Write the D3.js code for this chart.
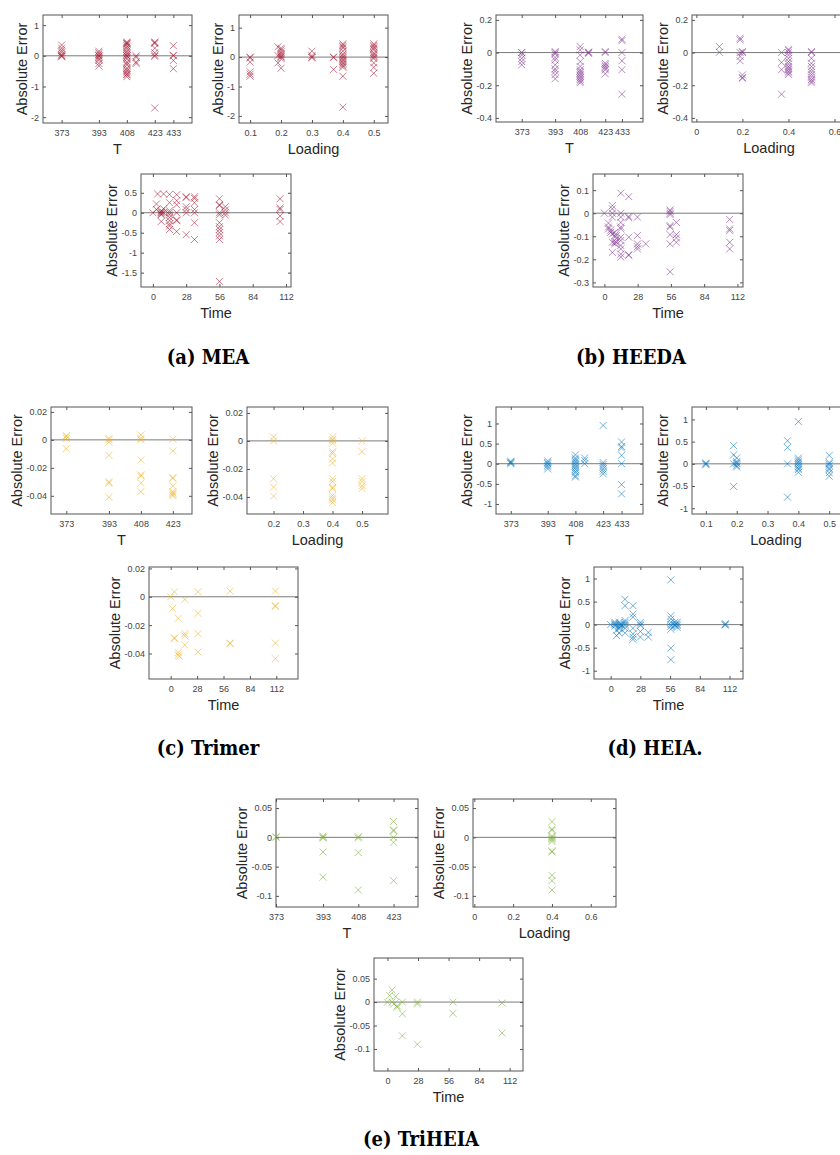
<!DOCTYPE html>
<html>
<head>
<meta charset="utf-8">
<script src="https://cdn.jsdelivr.net/npm/d3@7"></script>
<style>
  body { margin: 0; background: #fff; }
  svg { display: block; font-family: "Liberation Sans", Arial, sans-serif; }
  .tick text { font-size: 9px; fill: #444; }
  .tick line { stroke: #555; }
  .lab { font-size: 14.5px; fill: #262626; }
  .cap { font-family: "DejaVu Serif", "Liberation Serif", serif; font-stretch: condensed; font-weight: bold; font-size: 20px; fill: #000; }
</style>
</head>
<body>
<div id="chart"></div>
<script>
// ---- tick labels ----
const tTicks5 = [373, 393, 408, 423, 433];
const tTicks4 = [373, 393, 408, 423];
const loadTicksA = [0.1, 0.2, 0.3, 0.4, 0.5];
const loadTicksB = [0, 0.2, 0.4, 0.6];
const loadTicksC = [0.2, 0.3, 0.4, 0.5];
const timeTicks = [0, 28, 56, 84, 112];
const yTicksMEA = [-2, -1, 0, 1];
const yTicksMEATime = [-1.5, -1, -0.5, 0, 0.5];
const yTicksHEEDA = [-0.4, -0.2, 0, 0.2];
const yTicksHEEDATime = [-0.3, -0.2, -0.1, 0, 0.1];
const yTicksTrimer = [-0.04, -0.02, 0, 0.02];
const yTicksHEIA = [-1, -0.5, 0, 0.5, 1];
const yTicksTriHEIA = [-0.1, -0.05, 0, 0.05];

// ---- data: [x, absolute error] ----
const meaT = [
 [373,0.35],[373,0.25],[373,0.18],[373,0.12],[373,0.05],[373,0],[373,0],[373,-0.03],
 [393,0.15],[393,0.1],[393,0.05],[393,0],[393,0],[393,-0.05],[393,-0.1],[393,-0.15],[393,-0.25],[393,-0.33],
 [408,0.45],[408,0.42],[408,0.4],[408,0.38],[408,0.33],[408,0.28],[408,0.22],[408,0.15],[408,0.1],[408,0.05],[408,0],[408,0],[408,-0.05],[408,-0.1],[408,-0.2],[408,-0.25],[408,-0.3],[408,-0.4],[408,-0.45],[408,-0.5],[408,-0.55],[408,-0.6],[408,-0.62],[408,-0.68],
 [413,0],[413,-0.05],[413,-0.2],[413,-0.25],
 [423,0.45],[423,0.43],[423,0.4],[423,0.25],[423,0.1],[423,0.02],[423,-0.02],[423,-1.7],
 [433,0.33],[433,0.02],[433,0],[433,-0.15],[433,-0.42]
];
const meaLoading = [
 [0.1,0],[0.1,-0.03],[0.1,-0.17],[0.1,-0.5],[0.1,-0.58],[0.1,-0.65],
 [0.19,0.35],[0.19,0.05],[0.19,-0.2],
 [0.2,0.3],[0.2,0.25],[0.2,0.18],[0.2,0.12],[0.2,0.08],[0.2,0.03],[0.2,0],[0.2,-0.05],[0.2,-0.38],
 [0.3,0.2],[0.3,0.05],[0.3,0],[0.3,-0.02],
 [0.37,0],[0.37,-0.02],[0.37,-0.42],
 [0.4,0.45],[0.4,0.4],[0.4,0.35],[0.4,0.3],[0.4,0.2],[0.4,0.1],[0.4,0.05],[0.4,0],[0.4,-0.05],[0.4,-0.1],[0.4,-0.15],[0.4,-0.2],[0.4,-0.25],[0.4,-0.3],[0.4,-0.35],[0.4,-0.65],[0.4,-1.7],
 [0.5,0.45],[0.5,0.4],[0.5,0.35],[0.5,0.3],[0.5,0.25],[0.5,0.15],[0.5,0.1],[0.5,0.05],[0.5,0],[0.5,-0.05],[0.5,-0.2],[0.5,-0.35],[0.5,-0.55]
];
const meaTime = [
 [0,0],[3,0.22],[3,0.08],[4,0.47],[7,0.05],[7,0.02],[7,0],[7,-0.03],[7,-0.05],[7,-0.22],[9,0.47],[9,0.1],[9,0],
 [14,0.46],[14,0.25],[14,0.05],[14,0],[14,-0.05],[14,-0.12],[14,-0.2],[14,-0.28],[14,-0.33],[14,-0.42],
 [20,0.45],[20,0.3],[20,0.2],[20,0],[20,-0.18],[20,-0.2],[20,-0.47],
 [28,0.4],[28,0.38],[28,0.15],[28,0.08],[28,0],[28,-0.55],
 [35,0.4],[35,0.36],[35,0.25],[35,0.08],[35,0],[35,-0.25],[35,-0.67],
 [56,0.35],[56,0.2],[56,0.18],[56,0],[56,-0.05],[56,-0.25],[56,-0.35],[56,-0.42],[56,-0.5],[56,-0.58],[56,-0.67],[56,-1.72],
 [61,0.15],[61,0.07],[61,0],[61,-0.06],
 [107,0.35],[107,0.12],[107,0.08],[107,-0.08],[107,-0.22]
];
const heedaT = [
 [373,0],[373,0],[373,-0.015],[373,-0.035],[373,-0.055],[373,-0.075],
 [393,0.006],[393,0],[393,-0.008],[393,-0.03],[393,-0.045],[393,-0.075],[393,-0.1],[393,-0.115],[393,-0.135],[393,-0.16],
 [408,0.037],[408,0.016],[408,-0.015],[408,-0.055],[408,-0.085],[408,-0.105],[408,-0.115],[408,-0.125],[408,-0.135],[408,-0.145],[408,-0.155],[408,-0.165],[408,-0.175],[408,-0.185],
 [413,0.003],[413,0],[413,-0.005],
 [423,0.006],[423,0],[423,-0.065],[423,-0.075],[423,-0.085],[423,-0.095],[423,-0.105],[423,-0.13],
 [433,0.082],[433,0.073],[433,0],[433,-0.05],[433,-0.105],[433,-0.255]
];
const heedaLoading = [
 [0.1,0.037],[0.1,0.002],
 [0.19,0.088],[0.19,0.078],[0.19,0],[0.19,-0.024],[0.19,-0.05],
 [0.2,0.006],[0.2,0],[0.2,-0.137],[0.2,-0.153],[0.2,-0.157],
 [0.37,0],[0.37,-0.06],[0.37,-0.105],[0.37,-0.255],
 [0.4,0.02],[0.4,0.012],[0.4,0],[0.4,-0.015],[0.4,-0.035],[0.4,-0.055],[0.4,-0.07],[0.4,-0.085],[0.4,-0.095],[0.4,-0.105],[0.4,-0.115],[0.4,-0.125],[0.4,-0.135],
 [0.5,0.006],[0.5,0],[0.5,-0.035],[0.5,-0.065],[0.5,-0.085],[0.5,-0.105],[0.5,-0.12],[0.5,-0.135],[0.5,-0.15],[0.5,-0.165],[0.5,-0.175],[0.5,-0.185]
];
const heedaTime = [
 [0,0],[3.4,-0.043],[3.4,-0.06],[3.4,-0.068],[5.3,-0.073],[5.3,-0.083],
 [6.7,0.033],[6.7,0.019],[6.7,0],[6.7,-0.017],[6.7,-0.09],[6.7,-0.126],[6.7,-0.17],
 [8.7,-0.083],[8.7,-0.097],[8.7,-0.126],[8.7,-0.133],[10,-0.097],[10,-0.11],[10,-0.126],
 [13.8,0.087],[13.8,0],[13.8,-0.017],[13.8,-0.04],[13.8,-0.06],[13.8,-0.068],[13.8,-0.104],[13.8,-0.118],[13.8,-0.14],[13.8,-0.155],[13.8,-0.177],[13.8,-0.19],
 [20.5,0.072],[20.5,-0.014],[20.5,-0.02],[20.5,-0.104],[20.5,-0.18],[20.5,-0.183],
 [27.8,-0.017],[27.8,-0.097],[27.8,-0.133],[27.8,-0.145],[27.8,-0.155],[34.8,-0.133],
 [55.3,0.014],[55.3,0.008],[55.3,0],[55.3,-0.006],[55.3,-0.054],[55.3,-0.06],[55.3,-0.093],[55.3,-0.133],[55.3,-0.254],
 [60.6,-0.04],[60.6,-0.093],[60.6,-0.107],[60.6,-0.126],
 [105.5,-0.027],[105.5,-0.068],[105.5,-0.075],[105.5,-0.126],[105.5,-0.155]
];
const trimerT = [
 [373,0.003],[373,0.0023],[373,0.001],[373,-0.0063],
 [393,0.001],[393,0],[393,-0.0016],[393,-0.011],[393,-0.030],[393,-0.031],[393,-0.041],
 [408,0.0035],[408,0.001],[408,0],[408,-0.0144],[408,-0.025],[408,-0.026],[408,-0.031],[408,-0.037],
 [423,0.0005],[423,-0.008],[423,-0.027],[423,-0.0275],[423,-0.033],[423,-0.037],[423,-0.038],[423,-0.039],[423,-0.040]
];
const trimerLoading = [
 [0.2,0.0028],[0.2,0],[0.2,-0.027],[0.2,-0.033],[0.2,-0.0395],
 [0.4,0.0028],[0.4,0.001],[0.4,0],[0.4,-0.0016],[0.4,-0.0077],[0.4,-0.009],[0.4,-0.0128],[0.4,-0.0158],[0.4,-0.027],[0.4,-0.029],[0.4,-0.033],[0.4,-0.034],[0.4,-0.039],[0.4,-0.0407],[0.4,-0.042],[0.4,-0.044],
 [0.5,0],[0.5,-0.0077],[0.5,-0.027],[0.5,-0.029],[0.5,-0.032],[0.5,-0.034]
];
const trimerTime = [
 [0,0],[2,-0.0082],[4,0.0035],[4,-0.029],[4,-0.0295],[8,-0.0152],[8,-0.0393],[8,-0.041],[9,-0.042],
 [15,-0.0019],[15,-0.026],[15,-0.0276],[15,-0.034],[29,0.0035],[29,-0.0117],[29,-0.026],[29,-0.039],
 [63,0.004],[63,-0.0327],[63,-0.033],[111,0.004],[111,-0.0063],[111,-0.0068],[111,-0.0327],[111,-0.0437]
];
const heiaT = [
 [373,0.06],[373,0.04],[373,0.02],[373,0],
 [393,0.07],[393,0.03],[393,0],[393,-0.04],[393,-0.08],[393,-0.13],
 [408,0.22],[408,0.14],[408,0.1],[408,0.06],[408,0.02],[408,-0.02],[408,-0.06],[408,-0.1],[408,-0.14],[408,-0.19],[408,-0.23],[408,-0.3],[408,-0.33],
 [413,0.14],[413,0.08],[413,0],
 [423,0.95],[423,0.03],[423,-0.02],[423,-0.07],[423,-0.13],[423,-0.19],[423,-0.25],
 [433,0.54],[433,0.43],[433,0.39],[433,0.21],[433,0],[433,-0.52],[433,-0.75]
];
const heiaLoading = [
 [0.1,0.02],[0.1,0],[0.1,-0.02],
 [0.19,0.41],[0.19,0.2],[0.19,0],[0.19,-0.51],
 [0.2,0.13],[0.2,0.05],[0.2,0.02],[0.2,0],[0.2,-0.04],[0.2,-0.07],
 [0.365,0.52],[0.365,0.37],[0.365,0],[0.365,-0.75],
 [0.4,0.95],[0.4,0.13],[0.4,0.09],[0.4,0.05],[0.4,0.02],[0.4,-0.02],[0.4,-0.06],[0.4,-0.1],[0.4,-0.13],[0.4,-0.19],
 [0.5,0.19],[0.5,0.03],[0.5,0],[0.5,-0.04],[0.5,-0.1],[0.5,-0.13],[0.5,-0.2],[0.5,-0.28]
];
const heiaTime = [
 [0,0],[4,0.05],[4,0.02],[4,0],[4,-0.03],[5.6,-0.12],[5.6,-0.24],
 [8,0.05],[8,0.01],[8,-0.02],[8,-0.06],[8,-0.09],[8,-0.18],[10,0.01],[10,-0.02],
 [13.5,0.55],[13.5,0.41],[13.5,0.09],[13.5,0.05],[13.5,0.01],[13.5,-0.02],[13.5,-0.08],[13.5,-0.18],
 [21,0.41],[21,0.23],[21,0.16],[21,-0.08],[21,-0.2],[21,-0.27],[21,-0.32],
 [28,0.05],[28,0.01],[28,-0.02],[28,-0.15],[28,-0.27],[35.4,-0.17],[35.4,-0.27],
 [56.7,0.97],[56.7,0.19],[56.7,0.12],[56.7,0.05],[56.7,0],[56.7,-0.04],[56.7,-0.1],[56.7,-0.51],[56.7,-0.76],
 [60.5,0.05],[60.5,0],[60.5,-0.02],[62.7,0.05],[62.7,0.01],[62.7,-0.02],[62.7,-0.06],
 [108,0.02],[108,0],[108,-0.01]
];
const triheiaT = [
 [373,0],[373,0.001],
 [393,0.002],[393,0],[393,-0.001],[393,-0.025],[393,-0.068],
 [408,0.001],[408,-0.001],[408,-0.026],[408,-0.09],
 [423,0.027],[423,0.0125],[423,0.011],[423,0],[423,-0.0085],[423,-0.074]
];
const triheiaLoading = [
 [0.4,0.027],[0.4,0.014],[0.4,0.012],[0.4,0.002],[0.4,0],[0.4,-0.002],[0.4,-0.004],[0.4,-0.007],
 [0.4,-0.023],[0.4,-0.025],[0.4,-0.065],[0.4,-0.074],[0.4,-0.09]
];
const triheiaTime = [
 [0,0],[2,0.014],[4.3,0.026],[4.3,0],[6,-0.004],[7.6,0.012],[9,-0.008],[9,-0.011],
 [13.7,0],[13.7,-0.025],[13.7,-0.072],[27.5,0],[27.5,-0.004],[27.5,-0.09],
 [60,0],[60,-0.024],[105,-0.002],[105,-0.066]
];

const captions = ["(a) MEA", "(b) HEEDA", "(c) Trimer", "(d) HEIA.", "(e) TriHEIA"];

// matlab default line colours
const cMEA = "#a2142f", cHEEDA = "#7e2f8e", cTrimer = "#edb120", cHEIA = "#0072bd", cTriHEIA = "#77ac30";

// layout: box = [left, top, right, bottom] in px, x/y = axis limits
const panels = [
 {box:[43,15,192,123], x:[363,443], y:[-2.19,1.33], xt:tTicks5, yt:yTicksMEA, data:meaT, c:cMEA, xl:"T"},
 {box:[239,15,388,123], x:[0.064,0.546], y:[-2.24,1.43], xt:loadTicksA, yt:yTicksMEA, data:meaLoading, c:cMEA, xl:"Loading"},
 {box:[141,174,291,287], x:[-10,116.2], y:[-1.86,0.97], xt:timeTicks, yt:yTicksMEATime, data:meaTime, c:cMEA, xl:"Time"},
 {box:[496,15,643,122], x:[357.6,445.6], y:[-0.425,0.23], xt:tTicks5, yt:yTicksHEEDA, data:heedaT, c:cHEEDA, xl:"T"},
 {box:[692,15,846,122], x:[-0.019,0.65], y:[-0.425,0.23], xt:loadTicksB, yt:yTicksHEEDA, data:heedaLoading, c:cHEEDA, xl:"Loading"},
 {box:[593,174,743,287], x:[-9.6,116.7], y:[-0.32,0.17], xt:timeTicks, yt:yTicksHEEDATime, data:heedaTime, c:cHEEDA, xl:"Time"},
 {box:[51,407,192,514], x:[365.8,432], y:[-0.053,0.0235], xt:tTicks4, yt:yTicksTrimer, data:trimerT, c:cTrimer, xl:"T"},
 {box:[247,407,388,514], x:[0.11,0.588], y:[-0.0522,0.0242], xt:loadTicksC, yt:yTicksTrimer, data:trimerLoading, c:cTrimer, xl:"Loading"},
 {box:[149,567,298,679], x:[-23,135], y:[-0.058,0.021], xt:timeTicks, yt:yTicksTrimer, data:trimerTime, c:cTrimer, xl:"Time"},
 {box:[496,407,643,514], x:[365,444.6], y:[-1.25,1.41], xt:tTicks5, yt:yTicksHEIA, data:heiaT, c:cHEIA, xl:"T"},
 {box:[692,407,860,514], x:[0.055,0.6], y:[-1.13,1.28], xt:loadTicksA, yt:yTicksHEIA, data:heiaLoading, c:cHEIA, xl:"Loading"},
 {box:[594,567,743,679], x:[-15.7,124.7], y:[-1.18,1.25], xt:timeTicks, yt:yTicksHEIA, data:heiaTime, c:cHEIA, xl:"Time"},
 {box:[276,799,418,907], x:[373,433.4], y:[-0.119,0.0655], xt:tTicks4, yt:yTicksTriHEIA, data:triheiaT, c:cTriHEIA, xl:"T"},
 {box:[473,799,616,907], x:[-0.007,0.73], y:[-0.119,0.0655], xt:loadTicksB, yt:yTicksTriHEIA, data:triheiaLoading, c:cTriHEIA, xl:"Loading"},
 {box:[374,958,523,1071], x:[-12.3,124.2], y:[-0.147,0.094], xt:timeTicks, yt:yTicksTriHEIA, data:triheiaTime, c:cTriHEIA, xl:"Time"}
];
const capPos = [[208,364],[631,364],[208,755],[655,755],[421,1146]];

const W = 840, H = 1155;
const svg = d3.select("#chart").append("svg").attr("width", W).attr("height", H);
const fmt = v => String(Math.round(v * 1e6) / 1e6);
const cross = "M-3.5,-3.5L3.5,3.5M-3.5,3.5L3.5,-3.5";

panels.forEach(drawPanel);

svg.selectAll("text.cap").data(captions).join("text")
  .attr("class", "cap").attr("text-anchor", "middle")
  .attr("x", (d, i) => capPos[i][0]).attr("y", (d, i) => capPos[i][1])
  .text(d => d);

function drawPanel(p){
  const [x0, y0, x1, y1] = p.box;
  const x = d3.scaleLinear().domain(p.x).range([x0, x1]);
  const y = d3.scaleLinear().domain(p.y).range([y1, y0]);
  const g = svg.append("g");

  g.append("line").attr("x1", x0).attr("x2", x1).attr("y1", y(0)).attr("y2", y(0))
    .attr("stroke", "#7a7a7a").attr("stroke-width", 1);

  g.append("g").attr("transform", `translate(0,${y1})`)
    .call(d3.axisBottom(x).tickValues(p.xt).tickSize(-3).tickSizeOuter(0).tickPadding(7).tickFormat(fmt));
  g.append("g").attr("transform", `translate(0,${y0})`)
    .call(d3.axisTop(x).tickValues(p.xt).tickSize(-3).tickSizeOuter(0).tickFormat(""));
  const left = g.append("g").attr("transform", `translate(${x0},0)`)
    .call(d3.axisLeft(y).tickValues(p.yt).tickSize(-3).tickSizeOuter(0).tickPadding(4).tickFormat(fmt));
  g.append("g").attr("transform", `translate(${x1},0)`)
    .call(d3.axisRight(y).tickValues(p.yt).tickSize(-3).tickSizeOuter(0).tickFormat(""));
  g.selectAll(".domain").remove();

  g.append("rect").attr("x", x0).attr("y", y0).attr("width", x1 - x0).attr("height", y1 - y0)
    .attr("fill", "none").attr("stroke", "#555").attr("stroke-width", 1);

  g.append("g").selectAll("path").data(p.data).join("path")
    .attr("d", cross)
    .attr("transform", d => `translate(${x(d[0])},${y(d[1])})`)
    .attr("fill", "none").attr("stroke", p.c).attr("stroke-opacity", 0.55).attr("stroke-width", 1);

  let w = 0;
  left.selectAll("text").each(function(){ w = Math.max(w, this.getComputedTextLength()); });
  g.append("text").attr("class", "lab").attr("text-anchor", "middle")
    .attr("transform", `translate(${x0 - 8 - w},${(y0 + y1) / 2}) rotate(-90)`)
    .text("Absolute Error");
  g.append("text").attr("class", "lab").attr("text-anchor", "middle")
    .attr("x", (x0 + x1) / 2).attr("y", y1 + 31).text(p.xl);
}
</script>
</body>
</html>
